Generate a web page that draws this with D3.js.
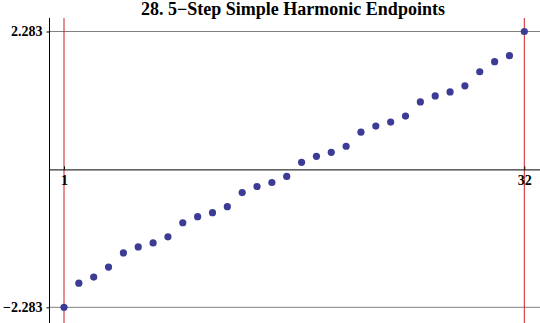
<!DOCTYPE html>
<html>
<head>
<meta charset="utf-8">
<script src="https://cdn.jsdelivr.net/npm/d3@7"></script>
<style>
  body { margin: 0; background: #fff; }
  text { font-family: "Liberation Serif", "Times New Roman", serif; }
</style>
</head>
<body>
<script>
// endpoints of the 5-step walk, sorted
var stepIndex = d3.range(1, 33);
var endpoints = [
  -2.28333, -1.88333, -1.78333, -1.61667, -1.38333, -1.28333, -1.21667, -1.11667,
  -0.88333, -0.78333, -0.71667, -0.61667, -0.38333, -0.28333, -0.21667, -0.11667,
  0.11667, 0.21667, 0.28333, 0.38333, 0.61667, 0.71667, 0.78333, 0.88333,
  1.11667, 1.21667, 1.28333, 1.38333, 1.61667, 1.78333, 1.88333, 2.28333
];
var xTicks = [1, 32];
var yTicks = [-2.28333, 2.28333];
var yTickLabels = ['\u22122.283', '2.283'];
var titleText = '28. 5\u2212Step Simple Harmonic Endpoints';

var width = 540, height = 323;

var x = d3.scaleLinear().domain([1, 32]).range([64, 524.3]);
var y = d3.scaleLinear().domain([-2.28333, 2.28333]).range([307.3, 31.5]);

var svg = d3.select('body').append('svg')
  .attr('width', width)
  .attr('height', height);

// gray lines at the extremes
svg.append('g').selectAll('line')
  .data(yTicks)
  .enter().append('line')
  .attr('x1', 49.5).attr('x2', 540)
  .attr('y1', function(d) { return y(d); })
  .attr('y2', function(d) { return y(d); })
  .attr('stroke', '#808080')
  .attr('stroke-width', 1);

// red verticals at first/last step
svg.append('g').selectAll('line')
  .data(xTicks)
  .enter().append('line')
  .attr('x1', function(d) { return x(d); })
  .attr('x2', function(d) { return x(d); })
  .attr('y1', 18).attr('y2', 323)
  .attr('stroke', '#cc2222')
  .attr('stroke-width', 1);

// x axis through zero
var xAxis = svg.append('g')
  .attr('transform', 'translate(0,' + y(0) + ')')
  .call(d3.axisBottom(x).tickValues(xTicks).tickSizeInner(-3).tickSizeOuter(0).tickPadding(6));
xAxis.select('.domain').attr('d', 'M49.5,0.5H540').attr('stroke', '#000');
xAxis.selectAll('text')
  .attr('font-size', 14).attr('font-weight', 'bold')
  .attr('font-family', '"Liberation Serif", serif').attr('fill', '#000');

// y axis
var yAxis = svg.append('g')
  .attr('transform', 'translate(49.5,0)')
  .call(d3.axisLeft(y).tickValues(yTicks).tickSizeInner(3).tickSizeOuter(0).tickPadding(4)
    .tickFormat(function(d, i) { return yTickLabels[i]; }));
yAxis.select('.domain').attr('d', 'M0,18V323').attr('stroke', '#000');
yAxis.selectAll('text')
  .attr('font-size', 14).attr('font-weight', 'bold')
  .attr('font-family', '"Liberation Serif", serif').attr('fill', '#000');

// points
svg.append('g').selectAll('circle')
  .data(endpoints)
  .enter().append('circle')
  .attr('cx', function(d, i) { return x(stepIndex[i]); })
  .attr('cy', function(d) { return y(d); })
  .attr('r', 3.6)
  .attr('fill', '#3c3c96');

svg.append('text')
  .attr('x', 293).attr('y', 15)
  .attr('text-anchor', 'middle')
  .attr('font-size', 18).attr('font-weight', 'bold')
  .text(titleText);
</script>
</body>
</html>
